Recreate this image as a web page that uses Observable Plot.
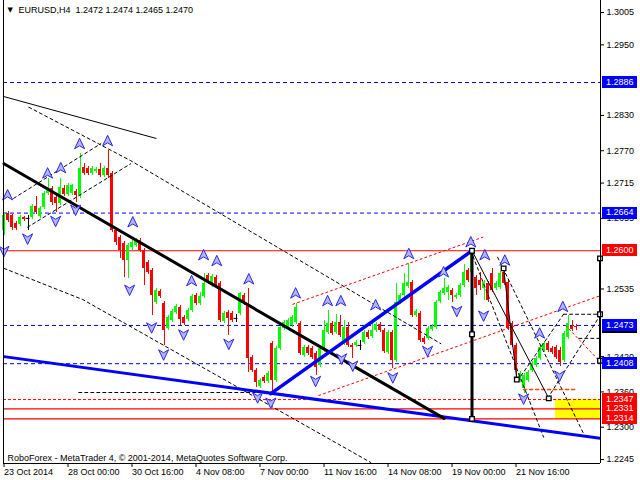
<!DOCTYPE html>
<html><head><meta charset="utf-8">
<script src="https://cdn.jsdelivr.net/npm/d3@7"></script>
<script src="https://cdn.jsdelivr.net/npm/@observablehq/plot@0.6"></script>
<style>body{margin:0;background:#fff} svg{display:block}</style>
</head><body><div id="chart"></div>
<script>
// ---- candle data (EURUSD H4) ----
const opens = [
1.2634,1.2663,1.2660,1.2646,1.2645,1.2657,1.2655,1.2657,1.2675,1.2658,
1.2674,1.2697,1.2706,1.2691,1.2680,1.2706,1.2696,1.2697,1.2701,1.2694,
1.2742,1.2740,1.2731,1.2735,1.2738,1.2728,1.2740,1.2731,1.2634,1.2623,
1.2612,1.2583,1.2606,1.2609,1.2617,1.2600,1.2580,1.2566,1.2512,1.2531,
1.2510,1.2468,1.2481,1.2495,1.2504,1.2487,1.2483,1.2498,1.2524,1.2510,
1.2522,1.2558,1.2541,1.2555,1.2544,1.2480,1.2495,1.2493,1.2485,1.2493,
1.2524,1.2510,1.2419,1.2396,1.2369,1.2385,1.2378,1.2442,1.2379,1.2434,
1.2468,1.2470,1.2473,1.2478,1.2476,1.2422,1.2436,1.2434,1.2425,1.2405,
1.2430,1.2461,1.2476,1.2461,1.2478,1.2442,1.2470,1.2439,1.2439,1.2439,
1.2444,1.2461,1.2454,1.2464,1.2475,1.2464,1.2427,1.2461,1.2413,1.2512,
1.2524,1.2539,1.2546,1.2490,1.2493,1.2451,1.2451,1.2466,1.2470,1.2514,
1.2527,1.2529,1.2532,1.2521,1.2524,1.2541,1.2566,1.2563,1.2555,1.2549,
1.2536,1.2544,1.2561,1.2536,1.2538,1.2563,1.2546,1.2476,1.2439,1.2379,
1.2366,1.2379,1.2396,1.2405,1.2417,1.2430,1.2442,1.2434,1.2436,1.2430,
1.2413,1.2453,1.2471,1.2472];
const highs = [
1.2665,1.2667,1.2662,1.2650,1.2660,1.2658,1.2660,1.2679,1.2692,1.2675,
1.2701,1.2723,1.2709,1.2694,1.2723,1.2711,1.2714,1.2713,1.2704,1.2765,
1.2748,1.2743,1.2743,1.2742,1.2748,1.2743,1.2770,1.2735,1.2638,1.2626,
1.2616,1.2612,1.2617,1.2621,1.2621,1.2604,1.2583,1.2570,1.2536,1.2534,
1.2514,1.2490,1.2500,1.2509,1.2507,1.2490,1.2502,1.2526,1.2527,1.2529,
1.2561,1.2561,1.2560,1.2558,1.2548,1.2497,1.2498,1.2497,1.2492,1.2529,
1.2527,1.2536,1.2422,1.2400,1.2383,1.2388,1.2395,1.2446,1.2437,1.2473,
1.2481,1.2485,1.2490,1.2510,1.2480,1.2439,1.2439,1.2437,1.2429,1.2437,
1.2481,1.2498,1.2480,1.2492,1.2490,1.2481,1.2478,1.2442,1.2447,1.2447,
1.2464,1.2464,1.2478,1.2478,1.2478,1.2468,1.2464,1.2464,1.2544,1.2527,
1.2561,1.2578,1.2549,1.2500,1.2497,1.2454,1.2471,1.2475,1.2515,1.2532,
1.2553,1.2541,1.2536,1.2527,1.2544,1.2577,1.2570,1.2600,1.2558,1.2563,
1.2549,1.2548,1.2570,1.2548,1.2565,1.2570,1.2549,1.2480,1.2442,1.2395,
1.2391,1.2396,1.2412,1.2420,1.2439,1.2446,1.2446,1.2437,1.2439,1.2436,
1.2463,1.2490,1.2481,1.2474];
const lows = [
1.2626,1.2648,1.2634,1.2634,1.2641,1.2650,1.2634,1.2653,1.2662,1.2655,
1.2670,1.2694,1.2677,1.2665,1.2677,1.2692,1.2692,1.2694,1.2682,1.2689,
1.2728,1.2728,1.2728,1.2731,1.2725,1.2725,1.2723,1.2631,1.2609,1.2587,
1.2555,1.2553,1.2600,1.2606,1.2597,1.2541,1.2560,1.2490,1.2509,1.2519,
1.2439,1.2464,1.2478,1.2492,1.2473,1.2473,1.2480,1.2495,1.2507,1.2507,
1.2519,1.2543,1.2538,1.2538,1.2478,1.2476,1.2456,1.2478,1.2478,1.2490,
1.2507,1.2393,1.2393,1.2368,1.2366,1.2374,1.2374,1.2359,1.2376,1.2430,
1.2464,1.2466,1.2470,1.2475,1.2422,1.2419,1.2422,1.2415,1.2388,1.2402,
1.2427,1.2458,1.2456,1.2458,1.2453,1.2439,1.2436,1.2417,1.2436,1.2430,
1.2441,1.2449,1.2451,1.2461,1.2461,1.2425,1.2424,1.2400,1.2410,1.2509,
1.2521,1.2536,1.2487,1.2487,1.2444,1.2441,1.2447,1.2463,1.2466,1.2510,
1.2524,1.2515,1.2512,1.2517,1.2521,1.2538,1.2546,1.2560,1.2524,1.2532,
1.2515,1.2512,1.2529,1.2532,1.2534,1.2541,1.2464,1.2436,1.2379,1.2376,
1.2357,1.2376,1.2393,1.2402,1.2413,1.2427,1.2427,1.2424,1.2415,1.2403,
1.2410,1.2449,1.2463,1.2465];
const closes = [
1.2660,1.2651,1.2640,1.2638,1.2657,1.2653,1.2655,1.2675,1.2665,1.2672,
1.2697,1.2708,1.2682,1.2680,1.2708,1.2696,1.2711,1.2711,1.2694,1.2740,
1.2731,1.2731,1.2740,1.2738,1.2728,1.2740,1.2728,1.2634,1.2614,1.2600,
1.2583,1.2609,1.2614,1.2617,1.2600,1.2570,1.2563,1.2524,1.2532,1.2522,
1.2464,1.2487,1.2497,1.2505,1.2483,1.2476,1.2498,1.2522,1.2510,1.2522,
1.2544,1.2546,1.2556,1.2541,1.2481,1.2493,1.2485,1.2481,1.2485,1.2527,
1.2510,1.2417,1.2396,1.2376,1.2379,1.2378,1.2391,1.2379,1.2434,1.2470,
1.2478,1.2481,1.2487,1.2504,1.2425,1.2436,1.2425,1.2419,1.2402,1.2434,
1.2464,1.2476,1.2459,1.2478,1.2456,1.2470,1.2439,1.2436,1.2444,1.2439,
1.2461,1.2453,1.2464,1.2475,1.2464,1.2429,1.2461,1.2413,1.2512,1.2524,
1.2544,1.2546,1.2490,1.2497,1.2447,1.2444,1.2468,1.2471,1.2512,1.2529,
1.2536,1.2538,1.2524,1.2524,1.2541,1.2563,1.2549,1.2597,1.2536,1.2541,
1.2546,1.2515,1.2532,1.2544,1.2561,1.2544,1.2468,1.2439,1.2396,1.2391,
1.2388,1.2393,1.2408,1.2417,1.2436,1.2442,1.2430,1.2427,1.2419,1.2410,
1.2459,1.2476,1.2466,1.2470];

// ---- axis ticks ----
const timeTicks = [0,16,32,48,64,80,96,112,128];
const timeLabels = ["23 Oct 2014","28 Oct 00:00","30 Oct 16:00","4 Nov 08:00","7 Nov 00:00","11 Nov 16:00","14 Nov 08:00","19 Nov 00:00","21 Nov 16:00"];
const priceTicks = [1.3005,1.2950,1.2830,1.2770,1.2715,1.2655,1.2535,1.2420,1.2360,1.2300,1.2245];

// ---- horizontal levels ----
const blueLevels = [1.2886,1.2664,1.2473,1.2408];
const redLevels = [1.2600,1.2331,1.2314];
const redDashedLevels = [1.2347];

// ---- price labels at right (price, kind) ----
const labelPrices = [1.2470,1.2886,1.2664,1.2600,1.2473,1.2408,1.2347,1.2331,1.2314];
const labelKinds  = ["bid","blue","blue","red","blue","blue","red","red","red"];

// ---- drawn objects: [bar index, price] ----
const thinBlack = [[[0,1.2862],[38,1.2791]],[[117,1.2600],[136.2,1.2349]],[[124.9,1.2570],[128.2,1.2381]]];
const blackThick = [[0,1.2748],[110,1.2315]];
const blueLow = [[0,1.2420],[149.2,1.2281]];
const blueUp = [[66.7,1.2357],[117,1.2600]];
const vertLine = [[117,1.2600],[117,1.2314]];
const edgeLine = [[149,1.2587],[149,1.2413]];
const blackDashed = [
  [[0,1.2570],[19.7,1.2517],[91.7,1.2240]],
  [[6.2,1.2844],[31.7,1.2753],[109.2,1.2442]],
  [[2.4,1.2689],[24.2,1.2782]],
  [[5.9,1.2640],[31.7,1.2748]],
  [[18.7,1.2359],[66.2,1.2359]],
  [[116.7,1.2600],[134.9,1.2283]],
  [[123.4,1.2589],[144.9,1.2289]],
  [[128.4,1.2379],[139.9,1.2492]],
  [[135.9,1.2349],[149.2,1.2492]],
  [[139.9,1.2492],[149.2,1.2492]],
  [[143.7,1.2451],[149.2,1.2451]]
];
const redDotted = [
  [[72.2,1.2509],[119.7,1.2623]],
  [[78.7,1.2354],[149.2,1.2524]],
  [[140.4,1.2473],[149.2,1.2410]]
];
const orangeDashed = [[129.9,1.2364],[142.7,1.2364]];
const squares = [[117,1.2600],[117,1.2458],[117,1.2314],[124.9,1.2570],[128.2,1.2381],[136.2,1.2349],[149,1.2587],[149,1.2492],[149,1.2413]];
const zone = {from:137.9, to:149.2, hi:1.2347, lo:1.2314};
const upFractals = [[0.9,1.2694],[10.9,1.2731],[14.2,1.2740],[18.9,1.2781],[25.9,1.2786],[32.2,1.2648],[46.9,1.2548],[49.9,1.2592],[53.2,1.2582],[61.2,1.2551],[72.9,1.2527],[80.9,1.2514],[84.2,1.2514],[92.9,1.2507],[101.2,1.2594],[109.9,1.2563],[116.7,1.2614],[120.2,1.2592],[125.2,1.2583],[133.9,1.2459],[139.7,1.2504]];
const downFractals = [[0,1.2600],[5.9,1.2621],[12.9,1.2651],[17.9,1.2670],[31.4,1.2534],[36.9,1.2470],[39.9,1.2424],[44.9,1.2458],[56.2,1.2442],[63.4,1.2351],[66.7,1.2342],[77.9,1.2379],[84.4,1.2417],[87.2,1.2405],[97.2,1.2385],[105.9,1.2430],[113.2,1.2498],[119.9,1.2490],[129.9,1.2349],[138.9,1.2388]];

const headerText = "EURUSD,H4  1.2472 1.2474 1.2465 1.2470";
const footerText = "RoboForex - MetaTrader 4, \u00a9 2001-2014, MetaQuotes Software Corp.";

// ---- build ----
const bars = opens.map((o,i)=>({i, o, h:highs[i], l:lows[i], c:closes[i]}));
const col = d => d.c > d.o ? "#00ff00" : d.c < d.o ? "#ff0000" : "#000000";
const flat = paths => paths.flatMap((p,k)=>p.map(([x,y])=>({x,y,k})));
const pts = arr => arr.map(([x,y])=>({x,y}));

const arrowUp = {draw(ctx,size){const r=Math.sqrt(size/Math.PI);ctx.moveTo(0,-1.2*r);ctx.lineTo(r,0.9*r);ctx.lineTo(0,0.3*r);ctx.lineTo(-r,0.9*r);ctx.closePath();}};
const arrowDown = {draw(ctx,size){const r=Math.sqrt(size/Math.PI);ctx.moveTo(0,1.2*r);ctx.lineTo(r,-0.9*r);ctx.lineTo(0,-0.3*r);ctx.lineTo(-r,-0.9*r);ctx.closePath();}};

const X0 = -0.125, X1 = 149.125, Y0 = 1.22383, Y1 = 1.30254;

const chart = Plot.plot({
  width: 640, height: 480,
  marginLeft: 3, marginRight: 40, marginTop: 0, marginBottom: 17,
  x: {domain: [X0, X1], label: null},
  y: {domain: [Y0, Y1], label: null},
  style: {fontFamily: "'Liberation Sans', Arial, sans-serif", fontSize: "9px", background: "#fff", overflow: "visible", color: "#000"},
  marks: [
    Plot.rect([zone], {x1:"from", x2:"to", y1:"lo", y2:"hi", fill:"#ffff00", clip:true}),
    Plot.ruleY(blueLevels, {stroke:"#0000ff", strokeDasharray:"4,3"}),
    Plot.ruleY(redLevels, {stroke:"#ff0000", strokeWidth:1.2}),
    Plot.ruleY(redDashedLevels, {stroke:"#ff0000", strokeDasharray:"3,2"}),
    // candles
    Plot.ruleX(bars, {x:"i", y1:"l", y2:"h", stroke:col, shapeRendering:"crispEdges"}),
    Plot.rect(bars.filter(d=>d.o!==d.c), {x1:d=>d.i-0.375, x2:d=>d.i+0.375, y1:"o", y2:"c", fill:col, shapeRendering:"crispEdges"}),
    Plot.ruleY(bars.filter(d=>d.o===d.c), {y:"o", x1:d=>d.i-0.5, x2:d=>d.i+0.5, stroke:"#000"}),
    // drawn objects
    Plot.line(flat(blackDashed), {x:"x", y:"y", z:"k", stroke:"#000", strokeWidth:1, strokeDasharray:"3,3", clip:true}),
    Plot.line(flat(redDotted), {x:"x", y:"y", z:"k", stroke:"#ff0000", strokeWidth:1, strokeDasharray:"2,3", clip:true}),
    Plot.line(pts(orangeDashed), {x:"x", y:"y", stroke:"#ff4500", strokeDasharray:"3,3"}),
    Plot.line(flat(thinBlack), {x:"x", y:"y", z:"k", stroke:"#000", strokeWidth:1}),
    Plot.line(pts(blueLow), {x:"x", y:"y", stroke:"#0000ff", strokeWidth:3, clip:true}),
    Plot.line(pts(blackThick), {x:"x", y:"y", stroke:"#000", strokeWidth:3}),
    Plot.line(pts(blueUp), {x:"x", y:"y", stroke:"#0000ff", strokeWidth:3.5}),
    Plot.line(pts(vertLine), {x:"x", y:"y", stroke:"#000", strokeWidth:3}),
    Plot.line(pts(edgeLine), {x:"x", y:"y", stroke:"#000", strokeWidth:2}),
    // fractals
    Plot.dot(pts(upFractals), {x:"x", y:"y", symbol:arrowUp, r:5, fill:"#b4b4f6", stroke:"#2828e6", strokeWidth:1}),
    Plot.dot(pts(downFractals), {x:"x", y:"y", symbol:arrowDown, r:5, fill:"#b4b4f6", stroke:"#2828e6", strokeWidth:1}),
    Plot.dot(pts(squares), {x:"x", y:"y", symbol:"square", r:2.6, fill:"#fff", stroke:"#000", strokeWidth:1.3}),
    // frame
    Plot.ruleX([X0], {stroke:"#000"}),
    Plot.ruleX([X1], {stroke:"#000"}),
    Plot.ruleY([Y0], {stroke:"#000"}),
    // axes
    Plot.axisX(timeTicks, {anchor:"bottom", tickSize:4, tickPadding:1.5, textAnchor:"start", tickFormat:d=>timeLabels[timeTicks.indexOf(d)], label:null}),
    Plot.axisY(priceTicks, {anchor:"right", tickSize:3, tickPadding:3, tickFormat:d=>d.toFixed(4), label:null}),
    // texts
    Plot.text([headerText], {frameAnchor:"top-left", dx:15, dy:6, lineAnchor:"top", text:d=>d, fill:"#000"}),
    Plot.text(["\u25bc"], {frameAnchor:"top-left", dx:4, dy:7, lineAnchor:"top", text:d=>d, fontSize:7, fontFamily:"DejaVu Sans", fill:"#000"}),
    Plot.text([footerText], {frameAnchor:"bottom-left", dx:4, dy:-3, lineAnchor:"bottom", text:d=>d, fill:"#000"})
  ]
});

// price label boxes on the right axis, positioned with Plot's y scale
const ys = chart.scale("y");
const svg = d3.select(chart);
const g = svg.append("g")
  .attr("font-family","'Liberation Sans', Arial, sans-serif")
  .attr("font-size","9px")
  .attr("text-anchor","start");
labelPrices.forEach((p,k)=>{
  const y = ys.apply(p);
  const kind = labelKinds[k];
  const fill = kind === "blue" ? "#0000ff" : kind === "red" ? "#ff0000" : "#000000";
  g.append("rect").attr("x",602).attr("y",Math.round(y)-6).attr("width",35).attr("height",12).attr("fill",fill);
  g.append("text").attr("x",606).attr("y",y).attr("dy","0.32em").attr("text-anchor","start").attr("fill","#fff").text(p.toFixed(4));
});

document.getElementById("chart").appendChild(chart);
</script>
</body></html>
